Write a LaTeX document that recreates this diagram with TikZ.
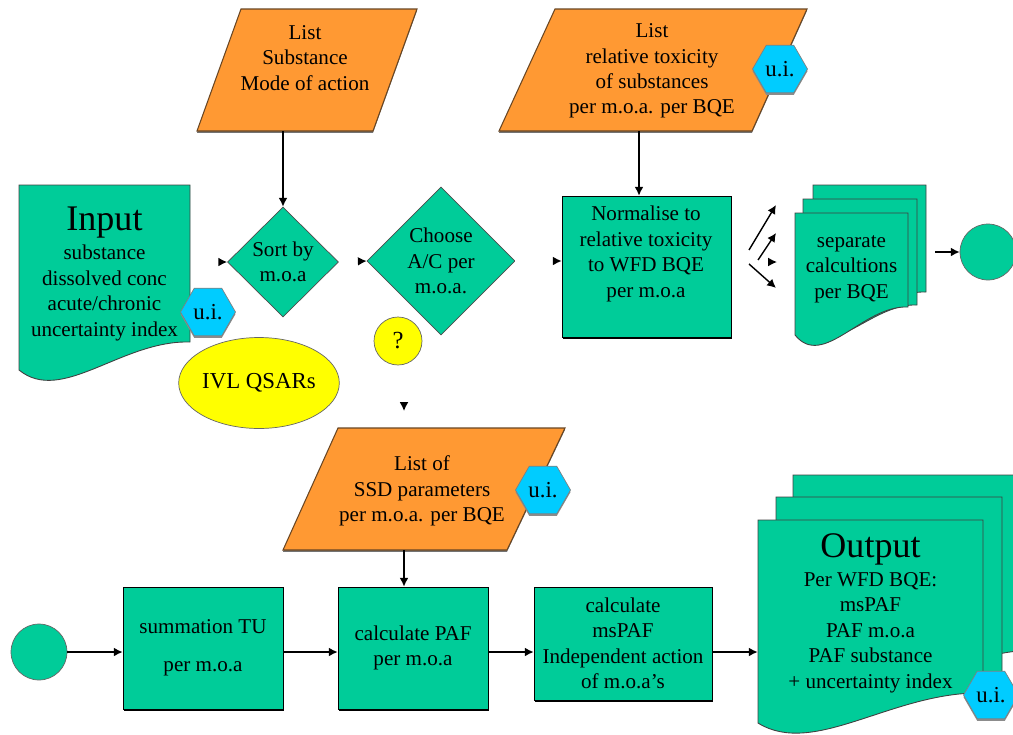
\documentclass[tikz,border=0pt]{standalone}
\usepackage{fontspec}
\setmainfont{Liberation Serif}
\usepackage{tikz}
\usetikzlibrary{shapes.geometric,arrows.meta,shadows}
\definecolor{flowgreen}{RGB}{0,204,153}
\definecolor{flowamber}{RGB}{255,153,51}
\definecolor{flowcyan}{RGB}{0,204,255}
\definecolor{flowyellow}{RGB}{255,255,0}
\newcommand{\flowfont}{\fontsize{12}{14.5}\selectfont}
\newcommand{\headfont}{\fontsize{20.5}{24}\selectfont}
\tikzstyle{block} = [rectangle, draw=black, fill=flowgreen, align=center,
                     inner sep=0pt, font=\flowfont,
                     drop shadow={shadow xshift=0.6pt, shadow yshift=-1.2pt, fill=black, opacity=1}]
\tikzstyle{decision} = [diamond, draw=black!70, fill=flowgreen, align=center,
                        aspect=1, inner sep=0pt, font=\flowfont]
\tikzstyle{terminal} = [circle, draw=black!60, fill=flowgreen, minimum size=1.12cm, inner sep=0pt]
\tikzstyle{uibadge} = [regular polygon, regular polygon sides=6, draw=black!50, fill=flowcyan,
                       minimum size=1.1cm, inner sep=0pt, font=\fontsize{13}{15}\selectfont,
                       drop shadow={shadow xshift=0pt, shadow yshift=-1.2pt, fill=black!45, opacity=1}]
\tikzstyle{note} = [ellipse, draw=black!60, fill=flowyellow, inner sep=0pt, font=\fontsize{13}{15}\selectfont]
\tikzstyle{datapara} = [draw=brown!55!black, line width=0.6pt, fill=flowamber,
                        drop shadow={shadow xshift=0pt, shadow yshift=-1pt, fill=black!55, opacity=1}]
\tikzstyle{sheet} = [draw=black!75, line width=0.5pt, fill=flowgreen]
\tikzstyle{label} = [align=center, font=\flowfont, inner sep=0pt]
\tikzstyle{arrow} = [-{Latex[length=5pt,width=5pt]}, line width=0.8pt]
\tikzstyle{ghost} = [-{Latex[length=5pt,width=5pt,color=black]}, draw=white, line width=0.8pt]
\newcommand{\docsheet}[5]{%
  \path[sheet] (#1,#2) -- (#3,#2) -- (#3,#5)
    .. controls ({#1+0.6*(#3-#1)},{#5-2}) and ({#1+0.25*(#3-#1)},{#4+35}) .. (#1,#4) -- cycle;}
\begin{document}
\begin{tikzpicture}[x=0.02cm, y=-0.02cm]
    \useasboundingbox (0,0) rectangle (1013,734);
    \clip (0,0) rectangle (1013,734);

    \path[datapara] (197,131) -- (373,131) -- (417,9) -- (241,9) -- cycle;
    \node [label] (modes) at (305,58) {List\\Substance\\Mode of action};
    \coordinate (modesbase) at (283,131);

    \path[datapara] (499,131) -- (752,131) -- (807,9) -- (555,9) -- cycle;
    \node [label] (tox) at (652,71) {List\\relative toxicity\\of substances\\per m.o.a. per BQE};
    \coordinate (toxbase) at (639,131);
    \node [uibadge] (uitox) at (780,69) {u.i.};

    \docsheet{19}{185}{190}{370}{342}
    \node [label, minimum width=3.42cm] (input) at (104.5,274)
          {{\headfont Input}\\[2pt]substance\\dissolved conc\\acute/chronic\\uncertainty index};
    \node [uibadge] (uiinput) at (208,312) {u.i.};

    \node [decision, minimum width=2.22cm, minimum height=2.2cm] (sort) at (283,262) {Sort by\\m.o.a};
    \node [decision, minimum width=2.96cm, minimum height=2.96cm] (choose) at (441,261) {Choose\\A/C per\\m.o.a.};
    \node [block, minimum width=3.38cm, minimum height=2.82cm] (norm) at (646.5,266.5) {};
    \node [label] (normtext) at (646,254) {Normalise to\\relative toxicity\\to WFD BQE\\per m.o.a};

    \node [note, minimum width=3.16cm, minimum height=1.82cm] (qsar) at (259,383) {IVL QSARs};
    \node [note, circle, minimum size=0.96cm, font=\fontsize{14}{16}\selectfont] (query) at (398,341) {?};

    \docsheet{813}{185}{926}{313}{292}
    \docsheet{803}{199}{917}{327}{305}
    \docsheet{795}{213}{908}{335}{307}
    \node [label, minimum width=2.26cm] (sepcalc) at (851.5,269) {separate\\calcultions\\per BQE};
    \coordinate (stackout) at (935,252);
    \node [terminal] (finish) at (988,252) {};

    \coordinate (fan1s) at (749,250); \coordinate (fan1e) at (776,205);
    \coordinate (fan2s) at (758,260); \coordinate (fan2e) at (776,233);
    \coordinate (fan3s) at (749,262); \coordinate (fan3e) at (777,262);
    \coordinate (fan4s) at (749,264); \coordinate (fan4e) at (776,288);

    \path[datapara] (283,550) -- (507,550) -- (565,428) -- (338,428) -- cycle;
    \node [label] (ssd) at (422,491) {List of\\SSD parameters\\per m.o.a. per BQE};
    \coordinate (ssdbase) at (404,550);
    \coordinate (ssdtip) at (404,411);
    \node [uibadge] (uissd) at (543,490) {u.i.};

    \node [terminal] (start) at (39,652) {};
    \node [block, minimum width=3.2cm, minimum height=2.44cm] (sum) at (203,648) {summation TU\\[0.26cm]per m.o.a};
    \node [block, minimum width=3.0cm, minimum height=2.44cm] (paf) at (413,648) {calculate PAF\\per m.o.a};
    \node [block, minimum width=3.56cm, minimum height=2.26cm] (mspaf) at (623,643.5)
          {calculate\\msPAF\\Independent action\\of m.o.a's};

    \docsheet{793}{475}{1040}{700}{650}
    \docsheet{776}{497}{1002}{710}{672}
    \docsheet{758}{520}{983}{723}{693}
    \node [label, minimum width=4.5cm] (output) at (870.5,613)
          {{\headfont Output}\\[2pt]Per WFD BQE:\\msPAF\\PAF m.o.a\\PAF substance\\+ uncertainty index};
    \node [uibadge] (uioutput) at (991,695) {u.i.};

    \draw [arrow] (modesbase) -- (modesbase |- sort.north);
    \draw [arrow] (toxbase) -- (toxbase |- norm.north);
    \draw [ghost, shorten <=2pt] (input.east |- sort.west) -- (sort.west);
    \draw [ghost] (sort.east) -- (choose.west);
    \draw [ghost] (choose.east) -- (norm.west |- choose.east);
    \draw [ghost] (ssdtip |- query.south) -- (ssdtip);
    \draw [arrow] (fan1s) -- (fan1e);
    \draw [arrow] (fan2s) -- (fan2e);
    \draw [ghost] (fan3s) -- (fan3e);
    \draw [arrow] (fan4s) -- (fan4e);
    \draw [arrow] (stackout) -- (finish);
    \draw [arrow] (ssdbase) -- (ssdbase |- paf.north);
    \draw [arrow] (start) -- (start -| sum.west);
    \draw [arrow] (sum.east |- start) -- (paf.west |- start);
    \draw [arrow] (paf.east |- start) -- (mspaf.west |- start);
    \draw [arrow] (mspaf.east |- start) -- (output.west |- start);
\end{tikzpicture}
\end{document}
